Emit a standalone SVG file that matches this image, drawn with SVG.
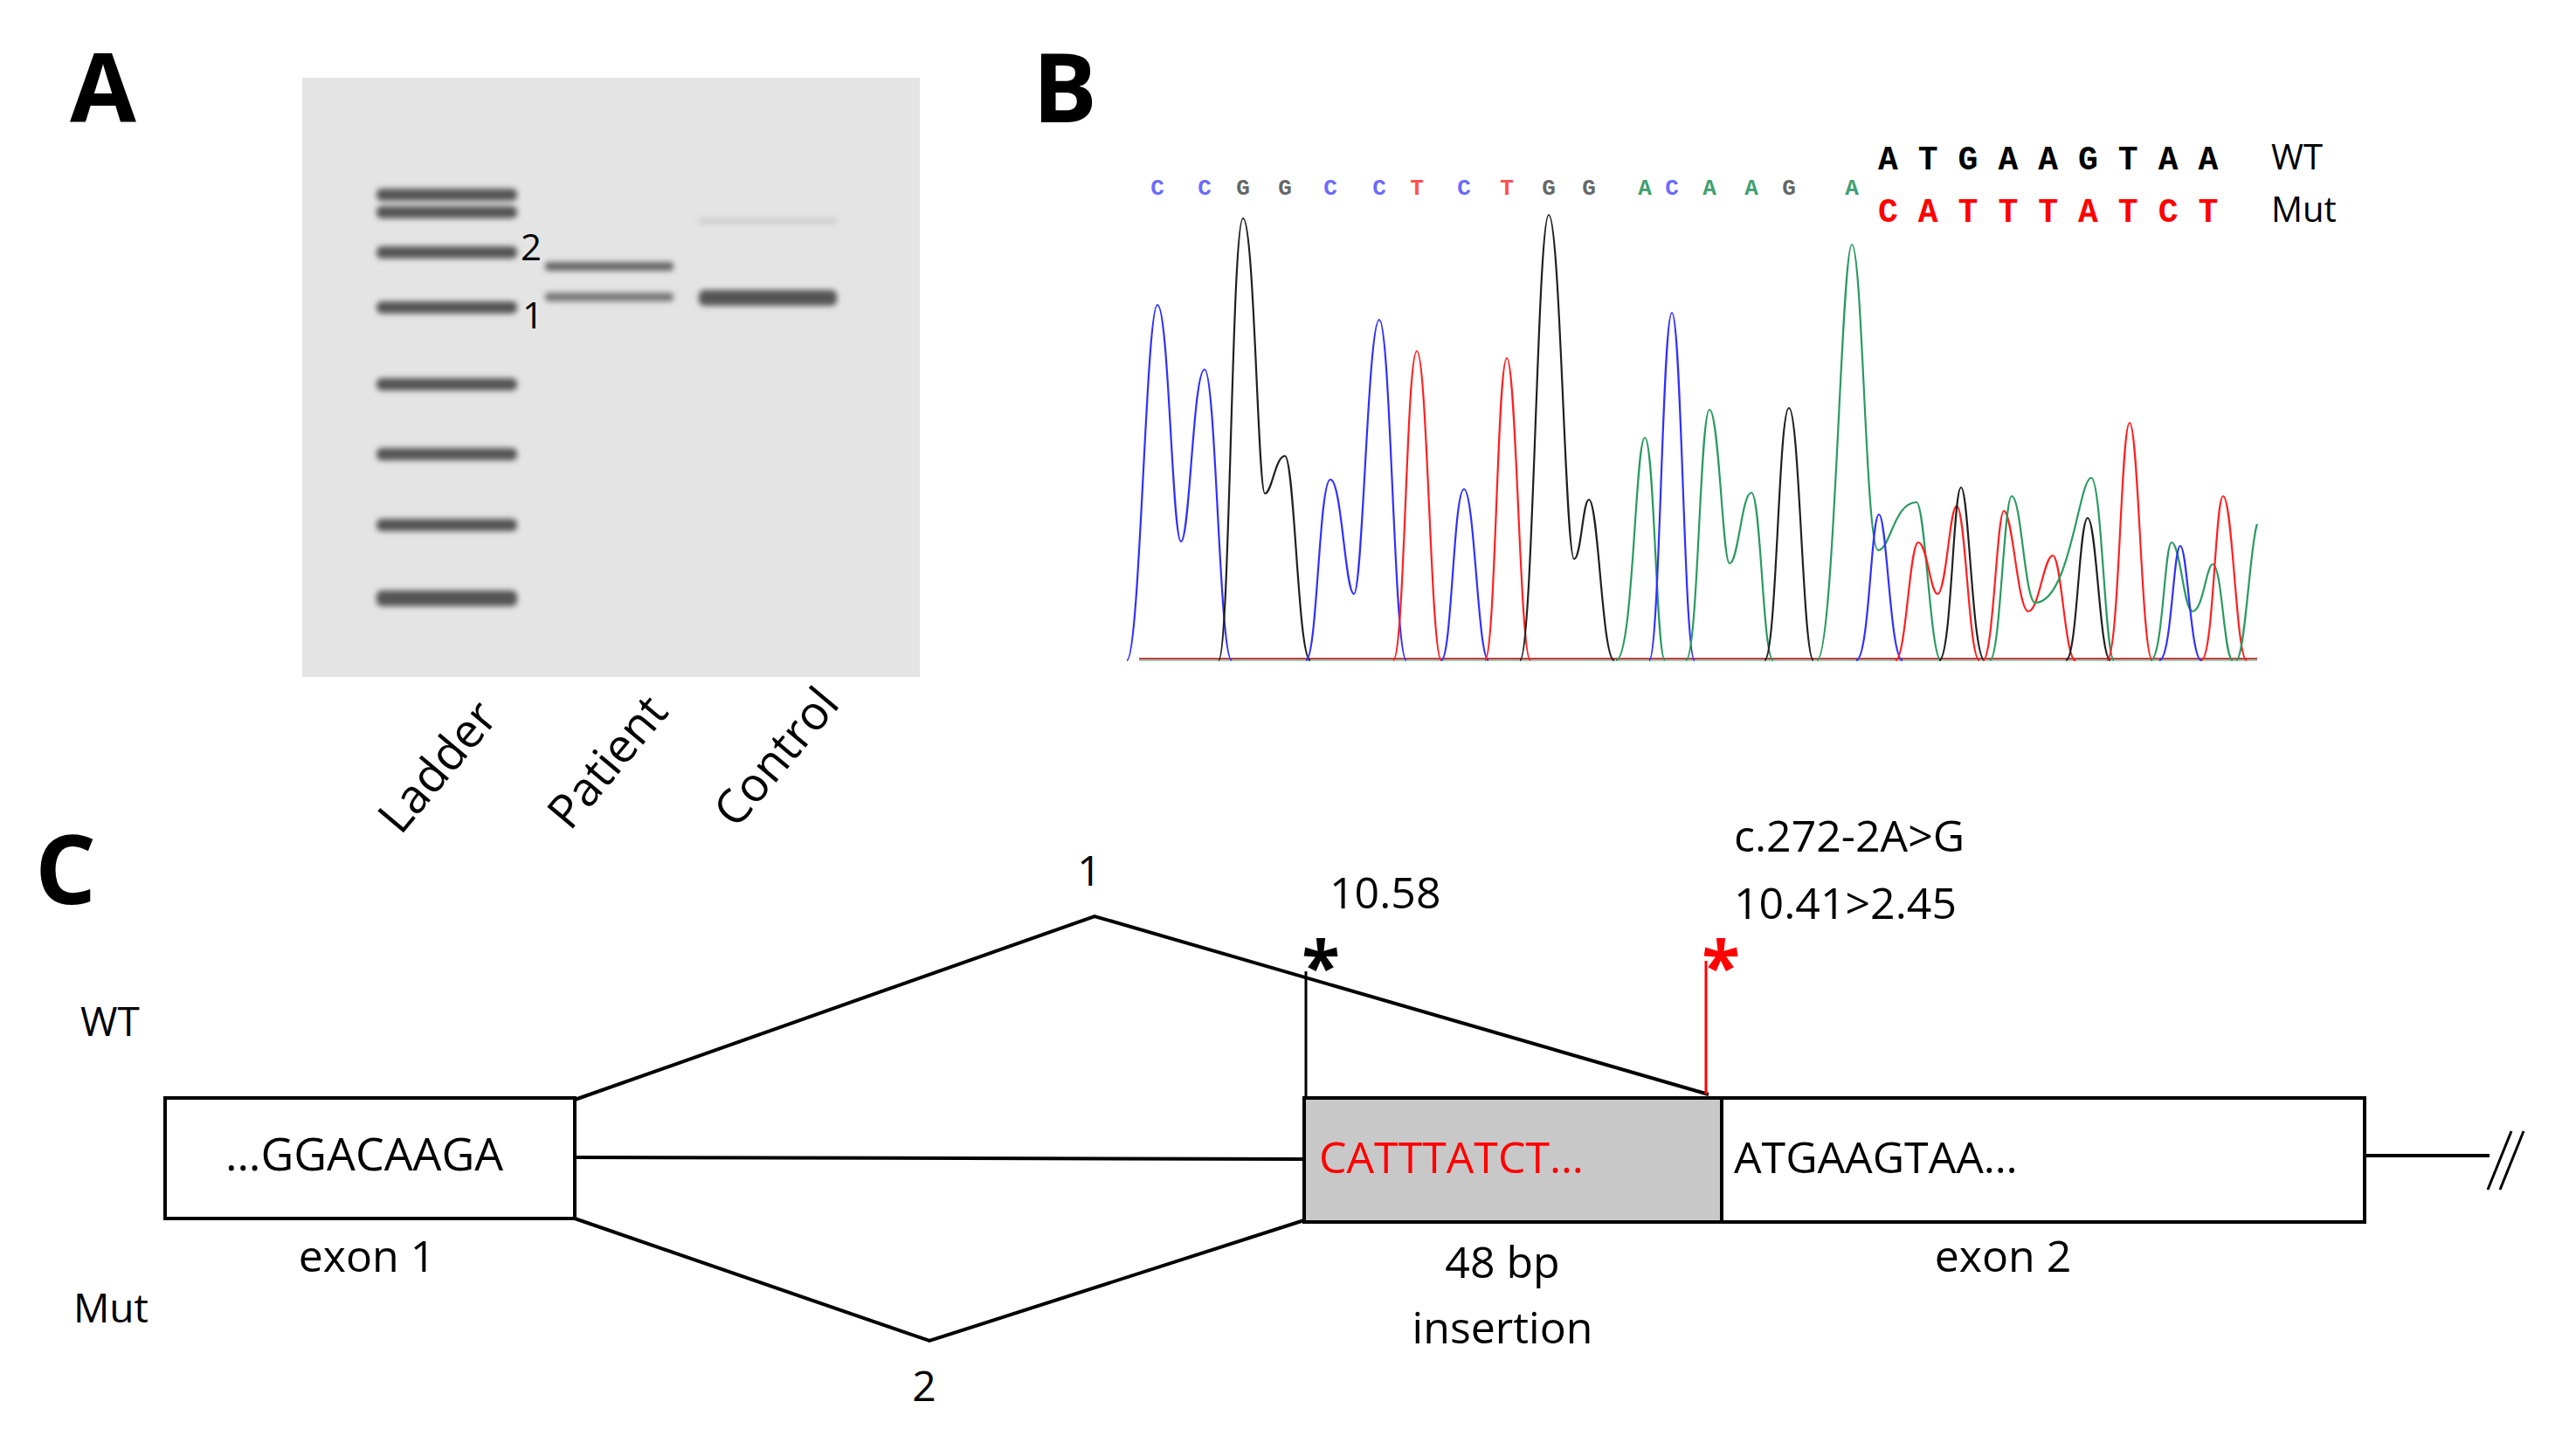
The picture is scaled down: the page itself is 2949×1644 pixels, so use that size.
<svg xmlns="http://www.w3.org/2000/svg" width="2949" height="1644" viewBox="0 0 2949 1644">
<style>
.lbl{font-family:"Open Sans",sans-serif;font-weight:bold;font-size:110px;fill:#000}
.t{font-family:"Open Sans",sans-serif;fill:#000}
.seq{font-family:"Liberation Mono",monospace;font-weight:bold}
.pk{fill:none;stroke-width:2.2}
.b{stroke:#3030ff}.k{stroke:#202020}.r{stroke:#ff2020}.g{stroke:#2a9a60}
.ln{fill:none;stroke:#000;stroke-width:4}
.band{fill:#555}
</style>
<defs>
<filter id="bl" x="-20%" y="-100%" width="140%" height="300%"><feGaussianBlur stdDeviation="3"/></filter>
</defs>
<rect width="2949" height="1644" fill="#fff"/>
<g id="panelA">
<text class="lbl" x="80" y="140">A</text>
<rect x="346" y="89" width="707" height="686" fill="#e4e4e4"/>
<g filter="url(#bl)">
<rect class="band" x="431" y="216" width="161" height="14" rx="6"/>
<rect class="band" x="431" y="236" width="161" height="14" rx="6"/>
<rect class="band" x="431" y="282" width="161" height="14" rx="6"/>
<rect class="band" x="431" y="345" width="161" height="14" rx="6"/>
<rect class="band" x="431" y="433" width="161" height="14" rx="6"/>
<rect class="band" x="431" y="513" width="161" height="14" rx="6"/>
<rect class="band" x="431" y="594" width="161" height="14" rx="6"/>
<rect class="band" x="431" y="676" width="161" height="18" rx="6"/>
<rect x="624" y="300" width="147" height="10" rx="4" fill="#666"/>
<rect x="624" y="335" width="147" height="10" rx="4" fill="#777"/>
<rect x="800" y="332" width="158" height="18" rx="6" fill="#555"/>
<rect x="800" y="250" width="158" height="6" fill="#ccc"/>
</g>
<text class="t" x="596" y="298" font-size="42">2</text>
<text class="t" x="598" y="376" font-size="42">1</text>
<text class="t" font-size="54" text-anchor="end" transform="translate(572,822) rotate(-50)">Ladder</text>
<text class="t" font-size="54" text-anchor="end" transform="translate(767,816) rotate(-50)">Patient</text>
<text class="t" font-size="54" text-anchor="end" transform="translate(963,807) rotate(-50)">Control</text>
</g>
<g id="panelB">
<text class="lbl" x="1182" y="140">B</text>
<g class="seq" font-size="26" font-weight="normal">
<text x="1325" y="223" fill="#6a6aff" text-anchor="middle">C</text>
<text x="1379" y="223" fill="#6a6aff" text-anchor="middle">C</text>
<text x="1423" y="223" fill="#666" text-anchor="middle">G</text>
<text x="1471" y="223" fill="#666" text-anchor="middle">G</text>
<text x="1523" y="223" fill="#6a6aff" text-anchor="middle">C</text>
<text x="1579" y="223" fill="#6a6aff" text-anchor="middle">C</text>
<text x="1622" y="223" fill="#ff5050" text-anchor="middle">T</text>
<text x="1676" y="223" fill="#6a6aff" text-anchor="middle">C</text>
<text x="1725" y="223" fill="#ff5050" text-anchor="middle">T</text>
<text x="1773" y="223" fill="#666" text-anchor="middle">G</text>
<text x="1819" y="223" fill="#666" text-anchor="middle">G</text>
<text x="1883" y="223" fill="#40a070" text-anchor="middle">A</text>
<text x="1914" y="223" fill="#6a6aff" text-anchor="middle">C</text>
<text x="1957" y="223" fill="#40a070" text-anchor="middle">A</text>
<text x="2005" y="223" fill="#40a070" text-anchor="middle">A</text>
<text x="2048" y="223" fill="#666" text-anchor="middle">G</text>
<text x="2120" y="223" fill="#40a070" text-anchor="middle">A</text>
</g>
<text class="seq" x="2150" y="194" font-size="38" fill="#000" letter-spacing="23">ATGAAGTAA</text>
<text class="seq" x="2150" y="254" font-size="38" fill="#ff0000" letter-spacing="23">CATTTATCT</text>
<text class="t" x="2600" y="194" font-size="40">WT</text>
<text class="t" x="2600" y="254" font-size="40">Mut</text>
<line x1="1304" y1="754" x2="2584" y2="754" stroke="#c04040" stroke-width="2"/>
<line x1="1304" y1="756" x2="2584" y2="756" stroke="#3a8a60" stroke-width="1.5" opacity="0.6"/>
<g id="peaks">
<path class="pk b" d="M1290,756 C1305,756 1312,349 1325,349 C1338,349 1342,620 1352,620 C1362,620 1366,423 1379,423 C1392,423 1396,756 1410,756"/>
<path class="pk k" d="M1395,756 C1408,756 1410,250 1423,250 C1436,250 1440,565 1448,565 C1456,565 1460,522 1471,522 C1482,522 1486,756 1500,756"/>
<path class="pk b" d="M1495,756 C1508,756 1510,549 1523,549 C1536,549 1540,680 1550,680 C1560,680 1566,366 1579,366 C1592,366 1596,756 1610,756"/>
<path class="pk r" d="M1595,756 C1608,756 1610,402 1622,402 C1634,402 1638,756 1650,756"/>
<path class="pk b" d="M1650,756 C1662,756 1664,560 1676,560 C1688,560 1692,756 1704,756"/>
<path class="pk r" d="M1700,756 C1712,756 1714,410 1725,410 C1736,410 1740,756 1752,756"/>
<path class="pk k" d="M1740,756 C1755,756 1760,246 1773,246 C1786,246 1792,640 1802,640 C1810,640 1812,572 1819,572 C1830,572 1834,756 1848,756"/>
<path class="pk g" d="M1850,756 C1870,756 1872,501 1883,501 C1894,501 1896,756 1906,756"/>
<path class="pk b" d="M1888,756 C1900,756 1903,358 1914,358 C1925,358 1928,756 1940,756"/>
<path class="pk g" d="M1930,756 C1944,756 1946,469 1957,469 C1968,469 1972,645 1980,645 C1990,645 1994,564 2005,564 C2016,564 2018,756 2030,756"/>
<path class="pk k" d="M2020,756 C2034,756 2036,467 2048,467 C2060,467 2064,756 2076,756"/>
<path class="pk g" d="M2080,756 C2100,756 2108,280 2120,280 C2132,280 2136,630 2150,630 C2164,630 2168,575 2194,575 C2204,575 2210,756 2222,756"/>
<path class="pk b" d="M2125,756 C2140,756 2142,589 2151,589 C2160,589 2164,756 2178,756"/>
<path class="pk r" d="M2170,756 C2182,756 2186,621 2196,621 C2206,621 2210,680 2218,680 C2228,680 2232,579 2240,579 C2250,579 2254,756 2266,756"/>
<path class="pk k" d="M2220,756 C2234,756 2236,558 2245,558 C2254,558 2258,756 2272,756"/>
<path class="pk r" d="M2270,756 C2282,756 2286,585 2294,585 C2304,585 2310,700 2322,700 C2334,700 2340,636 2350,636 C2360,636 2364,756 2376,756"/>
<path class="pk g" d="M2278,756 C2290,756 2294,568 2303,568 C2314,568 2318,690 2330,690 C2370,690 2380,547 2394,547 C2406,547 2410,756 2420,756"/>
<path class="pk k" d="M2365,756 C2378,756 2380,593 2390,593 C2400,593 2404,756 2416,756"/>
<path class="pk r" d="M2412,756 C2426,756 2428,484 2438,484 C2448,484 2452,756 2464,756"/>
<path class="pk g" d="M2462,756 C2476,756 2478,621 2486,621 C2496,621 2500,700 2510,700 C2522,700 2526,646 2533,646 C2544,646 2546,756 2556,756"/>
<path class="pk b" d="M2472,756 C2486,756 2488,625 2496,625 C2504,625 2508,756 2520,756"/>
<path class="pk r" d="M2520,756 C2534,756 2536,568 2545,568 C2556,568 2560,756 2572,756"/>
<path class="pk g" d="M2560,756 C2570,756 2576,620 2584,600"/>
</g>
</g>
<g id="panelC">
<text class="lbl" x="40" y="1035">C</text>
<text class="t" x="92" y="1186" font-size="46">WT</text>
<text class="t" x="84" y="1514" font-size="46">Mut</text>
</g>
<g id="connectors">
<polyline class="ln" points="658,1259 1253,1049 1956,1253"/>
<line class="ln" x1="658" y1="1325" x2="1493" y2="1327"/>
<polyline class="ln" points="658,1395 1064,1535 1493,1397"/>
<line x1="1495" y1="1257" x2="1495" y2="1112" stroke="#000" stroke-width="3"/>
<line x1="1953" y1="1253" x2="1953" y2="1100" stroke="#ff0000" stroke-width="3"/>
<line class="ln" x1="2707" y1="1323" x2="2850" y2="1323"/>
<line x1="2848" y1="1362" x2="2875" y2="1295" stroke="#000" stroke-width="3"/>
<line x1="2862" y1="1362" x2="2889" y2="1295" stroke="#000" stroke-width="3"/>
</g>
<g id="exon1">
<rect x="189" y="1257" width="469" height="138" fill="#fff" stroke="#000" stroke-width="4"/>
<text class="t" x="258" y="1340" font-size="52">…GGACAAGA</text>
<text class="t" x="420" y="1456" font-size="50" text-anchor="middle">exon 1</text>
</g>
<g id="insertion">
<rect x="1493" y="1257" width="478" height="142" fill="#c8c8c8" stroke="#000" stroke-width="4"/>
<text class="t" x="1510" y="1343" font-size="50" style="fill:#ff0000">CATTTATCT…</text>
<text class="t" x="1720" y="1463" font-size="50" text-anchor="middle">48 bp</text>
<text class="t" x="1720" y="1538" font-size="50" text-anchor="middle">insertion</text>
</g>
<g id="exon2">
<rect x="1971" y="1257" width="736" height="142" fill="#fff" stroke="#000" stroke-width="4"/>
<text class="t" x="1985" y="1343" font-size="50">ATGAAGTAA…</text>
<text class="t" x="2293" y="1456" font-size="50" text-anchor="middle">exon 2</text>
</g>
<g id="marks">
<text class="t" x="1247" y="1014" font-size="48" text-anchor="middle">1</text>
<text class="t" x="1058" y="1604" font-size="48" text-anchor="middle">2</text>
<text class="t" x="1522" y="1040" font-size="50">10.58</text>
<text class="t" x="1985" y="975" font-size="50">c.272-2A&gt;G</text>
<text class="t" x="1985" y="1052" font-size="50">10.41&gt;2.45</text>
<text class="t" x="1512" y="1135" font-size="80" font-weight="bold" text-anchor="middle">*</text>
<text class="t" x="1970" y="1135" font-size="80" font-weight="bold" text-anchor="middle" style="fill:#ff0000">*</text>
</g>
</svg>
